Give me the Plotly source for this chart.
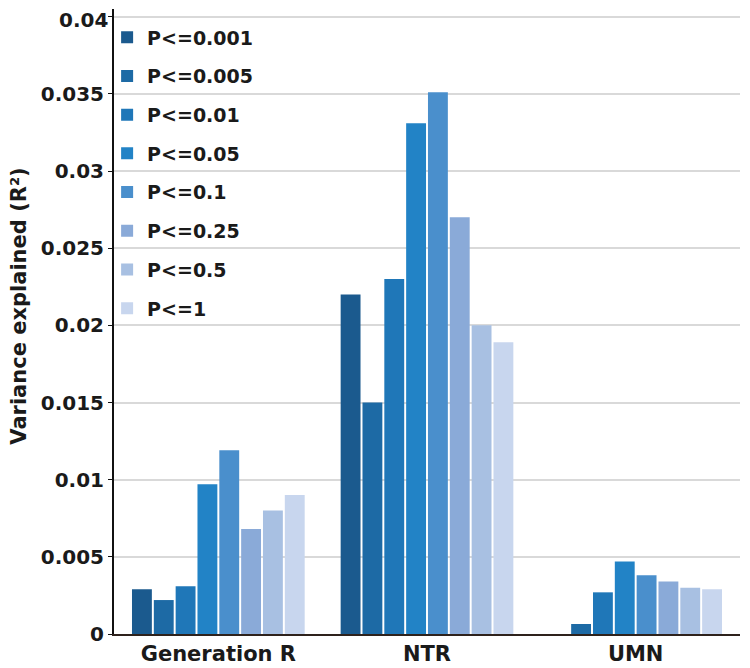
import plotly.graph_objects as go

categories = ["Generation R", "NTR", "UMN"]
thresholds = ["P<=0.001", "P<=0.005", "P<=0.01", "P<=0.05", "P<=0.1", "P<=0.25", "P<=0.5", "P<=1"]
colors = ["#1b5a8e", "#1d6aa5", "#1f77b8", "#2283c6", "#4a8fcc", "#8aaad8", "#a8c0e2", "#c8d6ee"]

gen_r = [0.0029, 0.0022, 0.0031, 0.0097, 0.0119, 0.0068, 0.0080, 0.0090]
ntr = [0.0220, 0.0150, 0.0230, 0.0331, 0.0351, 0.0270, 0.0200, 0.0189]
umn = [0.0, 0.00065, 0.0027, 0.0047, 0.0038, 0.0034, 0.0030, 0.0029]

ytick_vals = [0, 0.005, 0.01, 0.015, 0.02, 0.025, 0.03, 0.035, 0.04]
ytick_text = ["0", "0.005", "0.01", "0.015", "0.02", "0.025", "0.03", "0.035", ""]
top_tick_val = 0.04
top_tick_text = "0.04"
y_title = "Variance explained (R²)"

FONT = "DejaVu Sans"

fig = go.Figure()
for i, t in enumerate(thresholds):
    fig.add_trace(go.Bar(
        x=categories,
        y=[gen_r[i], ntr[i], umn[i]],
        name=t,
        legendgroup=t,
        marker=dict(color=colors[i], line=dict(width=0)),
    ))

fig.update_layout(
    width=742, height=660,
    margin=dict(l=106, r=10, t=1.3, b=34, autoexpand=False),
    paper_bgcolor="white", plot_bgcolor="white",
    barmode="group", bargap=0.163, bargroupgap=0.09,
    font=dict(family=FONT, color="#1a1a1a"),
    legend=dict(
        x=-0.011, y=0.985, xanchor="left", yanchor="top",
        font=dict(family=FONT, size=19, color="#1a1a1a", weight="bold"),
        traceorder="grouped", tracegroupgap=11,
        bgcolor="rgba(0,0,0,0)",
    ),
    showlegend=True,
    annotations=[
        dict(
            text=y_title, textangle=-90, xref="paper", yref="paper",
            x=-0.152, y=0.525, xanchor="center", yanchor="middle", showarrow=False,
            font=dict(family=FONT, size=21, color="#1a1a1a", weight="bold"),
        ),
        dict(
            text=top_tick_text, xref="paper", yref="y",
            x=0, y=top_tick_val, xanchor="right", yanchor="middle", xshift=-5, yshift=-3,
            showarrow=False, borderpad=0,
            font=dict(family=FONT, size=20, color="#1a1a1a", weight="bold"),
        ),
    ],
)
fig.update_xaxes(
    showgrid=False, showline=True, linecolor="#2e221c", linewidth=2,
    tickfont=dict(family=FONT, size=21, color="#1a1a1a", weight="bold"),
    ticks="", automargin=False,
)
fig.update_yaxes(
    range=[0, 0.0405], tickvals=ytick_vals, ticktext=ytick_text,
    showgrid=True, gridcolor="#d9d9d9", gridwidth=1.5,
    showline=True, linecolor="#111111", linewidth=2,
    ticks="outside", ticklen=4, tickcolor="#111111",
    tickfont=dict(family=FONT, size=20, color="#1a1a1a", weight="bold"),
    zeroline=False, automargin=False,
)

fig.write_html("out.html")
